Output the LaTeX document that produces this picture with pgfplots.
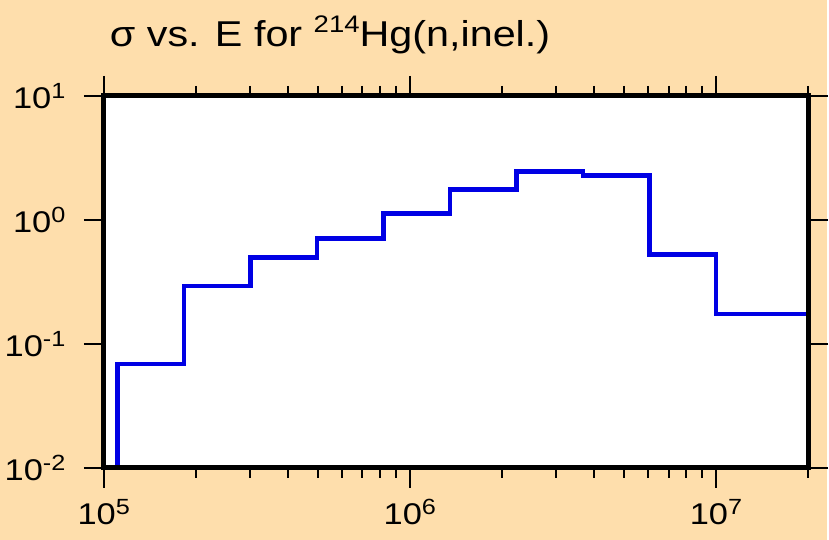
\documentclass[border=0pt]{standalone}
\usepackage{pgfplots}
\pgfplotsset{compat=1.18}
\usepackage{fontspec}
\setmainfont[FakeStretch=1.15]{Liberation Sans}
\definecolor{bgc}{RGB}{254,222,172}
\definecolor{lineblue}{RGB}{0,0,228}
\newcommand{\tl}[2]{#1\raisebox{10pt}{\fontsize{22}{24}\selectfont #2}}
\begin{document}
\begin{tikzpicture}
\fill[bgc] (-104pt,-72pt) rectangle (725pt,469pt);
\begin{axis}[
  at={(0pt,0pt)}, anchor=south west,
  scale only axis, width=706pt, height=373pt,
  xmode=log, ymode=log,
  xmin=1e5, xmax=2e7, ymin=1e-2, ymax=10,
  axis background/.style={fill=white},
  axis on top,
  axis line style={line width=5pt},
  every tick/.style={black, line width=2pt},
  tick align=outside,
  major tick length=20pt, minor tick length=10pt,
  xtick={1e5,1e6,1e7},
  xticklabels={\tl{10}{5},\tl{10}{6},\tl{10}{7}},
  minor xtick={2e5,3e5,4e5,5e5,6e5,7e5,8e5,9e5,2e6,3e6,4e6,5e6,6e6,7e6,8e6,9e6,2e7},
  ytick={1e-2,1e-1,1,10},
  yticklabels={\tl{10}{-2},\tl{10}{-1},\tl{10}{0},\tl{10}{1}},
  minor ytick={},
  yminorticks=false,
  ticklabel style={font=\fontsize{30}{34}\selectfont},
  xticklabel style={yshift=-8pt},
  yticklabel style={xshift=-15pt},
  title={σ vs. E for \raisebox{14pt}{\fontsize{24}{26}\selectfont 214}Hg(n,inel.)},
  title style={at={(0,1)}, anchor=base west, xshift=6pt, yshift=43pt, inner sep=0pt, font=\fontsize{36}{40}\selectfont},
]
\addplot[const plot, color=lineblue, line width=4.5pt] coordinates {
  (1.11e5,0.01)
  (1.11e5,0.0688)
  (1.83e5,0.293)
  (3.02e5,0.496)
  (4.98e5,0.705)
  (8.21e5,1.126)
  (1.353e6,1.755)
  (2.231e6,2.46)
  (3.679e6,2.27)
  (6.065e6,0.527)
  (1e7,0.174)
  (2e7,0.01)
};
\end{axis}
\end{tikzpicture}
\end{document}
